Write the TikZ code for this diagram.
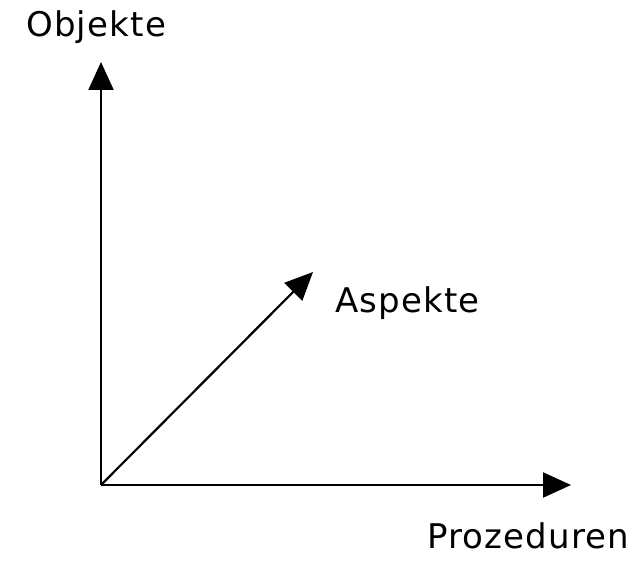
\documentclass[tikz,border=0pt]{standalone}
\usepackage{fontspec}
\setmainfont{DejaVu Sans}[LetterSpace=3.5]
\usetikzlibrary{arrows.meta}
\begin{document}
\begin{tikzpicture}[x=1pt,y=1pt,
  axis/.style={line width=2.2pt,-{Triangle[length=28pt,width=25pt]}},
  lbl/.style={anchor=base west,inner sep=0pt,font=\fontsize{34}{40}\selectfont}]
\useasboundingbox (0,0) rectangle (643,560);
\coordinate (o) at (101,75);
\coordinate (ytip) at (101,498);
\coordinate (xtip) at (571,75);
\coordinate (dtip) at (313,288);
\draw[axis] (o) -- (ytip);
\draw[axis] (o) -- (xtip);
\draw[axis] (o) -- (dtip);
\node[lbl] (obj) at (26,523) {Objekte};
\node[lbl] (asp) at (335,247) {Aspekte};
\node[lbl] (proz) at (427,12) {Prozeduren};
\end{tikzpicture}
\end{document}
